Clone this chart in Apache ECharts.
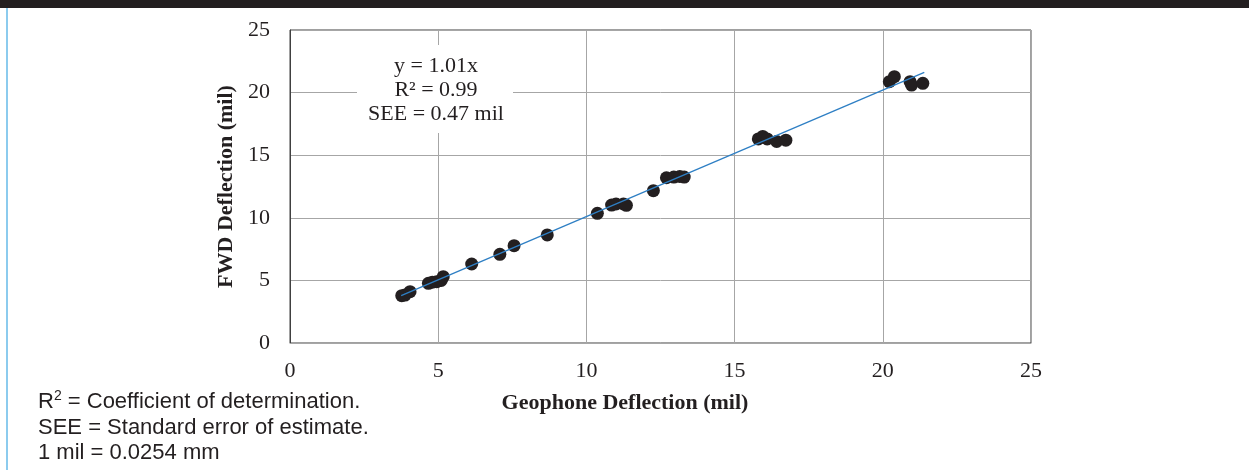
<!DOCTYPE html>
<html>
<head>
<meta charset="utf-8">
<script src="https://cdn.jsdelivr.net/npm/echarts@6/dist/echarts.min.js"></script>
<style>
html,body{margin:0;padding:0;background:#fff;}
#c{width:1249px;height:470px;}
</style>
</head>
<body>
<div id="c"></div>
<script>
// Measured points (Geophone deflection vs FWD deflection, mil)
const geophoneX = [3.77,3.88,4.05,4.67,4.8,4.95,5.1,5.17,6.13,7.08,7.56,8.68,10.37,10.85,11.0,11.25,11.35,12.26,12.7,12.95,13.15,13.3,15.8,15.95,16.1,16.42,16.73,20.22,20.39,20.92,20.97,21.35];
const fwdY =      [3.78,3.83,4.1,4.77,4.85,4.9,5.0,5.3,6.31,7.08,7.77,8.63,10.36,11.02,11.1,11.1,11.0,12.17,13.2,13.25,13.3,13.25,16.3,16.5,16.3,16.1,16.2,20.87,21.27,20.87,20.6,20.74];
// Trend line end points (y = 1.01x)
const trendX = [3.75, 21.4];
const trendY = [3.79, 21.61];
const axisTicks = [0, 5, 10, 15, 20, 25];
const annotationLines = ['y = 1.01x', 'R² = 0.99', 'SEE = 0.47 mil'];
const xTitle = 'Geophone Deflection (mil)';
const yTitle = 'FWD Deflection (mil)';

const serif = "'Liberation Serif','Times New Roman',serif";
const sans = "'Liberation Sans',Arial,sans-serif";
const ink = '#231f20';

const chart = echarts.init(document.getElementById('c'), null, {renderer: 'canvas'});
const pts = geophoneX.map((x, i) => [x, fwdY[i]]);
const trend = trendX.map((x, i) => [x, trendY[i]]);

chart.setOption({
  animation: false,
  backgroundColor: '#fff',
  grid: {left: 290, right: 218, top: 30, bottom: 127, show: true, borderColor: '#404040', borderWidth: 1},
  xAxis: {
    type: 'value', min: axisTicks[0], max: axisTicks[axisTicks.length - 1], interval: 5,
    axisLine: {show: true, lineStyle: {color: '#a6a6a6', width: 1}},
    axisTick: {show: false},
    axisLabel: {color: ink, fontFamily: serif, fontSize: 22, margin: 17},
    splitLine: {show: true, lineStyle: {color: '#a6a6a6', width: 1}}
  },
  yAxis: {
    type: 'value', min: axisTicks[0], max: axisTicks[axisTicks.length - 1], interval: 5,
    name: yTitle, nameLocation: 'middle', nameGap: 41, nameRotate: 90,
    nameTextStyle: {color: ink, fontFamily: serif, fontSize: 22, fontWeight: 'bold'},
    axisLine: {show: true, lineStyle: {color: '#404040', width: 1}},
    axisTick: {show: false},
    axisLabel: {color: ink, fontFamily: serif, fontSize: 22, margin: 20},
    splitLine: {show: true, lineStyle: {color: '#a6a6a6', width: 1}}
  },
  series: [
    {
      type: 'line', data: trend, symbol: 'none', z: 3,
      lineStyle: {color: '#2e7fc4', width: 1.3}
    },
    {
      type: 'scatter', data: pts, symbol: 'circle', symbolSize: 13, z: 2,
      itemStyle: {color: ink, opacity: 1}
    }
  ],
  graphic: [
    {type: 'rect', left: 0, top: 0, shape: {width: 1249, height: 8}, style: {fill: ink}},
    {type: 'rect', left: 6, top: 8, shape: {width: 2, height: 462}, style: {fill: '#8ccbee'}},
    {type: 'rect', left: 357, top: 45, z: 10, shape: {width: 156, height: 88}, style: {fill: '#fff'}},
    {type: 'text', x: 436, y: 66, z: 11, style: {text: annotationLines[0], fill: ink, font: '22px ' + serif, textAlign: 'center', textVerticalAlign: 'middle'}},
    {type: 'text', x: 436, y: 90, z: 11, style: {text: annotationLines[1], fill: ink, font: '22px ' + serif, textAlign: 'center', textVerticalAlign: 'middle'}},
    {type: 'text', x: 436, y: 114, z: 11, style: {text: annotationLines[2], fill: ink, font: '22px ' + serif, textAlign: 'center', textVerticalAlign: 'middle'}},
    {type: 'text', x: 625, y: 403, style: {text: xTitle, fill: ink, font: 'bold 22px ' + serif, textAlign: 'center', textVerticalAlign: 'middle'}},
    {type: 'text', x: 38, y: 402, style: {
      text: '{a|R}{s|2}{a| = Coefficient of determination.}',
      textVerticalAlign: 'middle',
      rich: {
        a: {fontFamily: sans, fontSize: 22, fill: ink, color: ink},
        s: {fontFamily: sans, fontSize: 14, fill: ink, color: ink, verticalAlign: 'top', padding: [0, 0, 11, 0]}
      }
    }},
    {type: 'text', x: 38, y: 428, style: {text: 'SEE = Standard error of estimate.', fill: ink, font: '22px ' + sans, textVerticalAlign: 'middle'}},
    {type: 'text', x: 38, y: 453, style: {text: '1 mil = 0.0254 mm', fill: ink, font: '22px ' + sans, textVerticalAlign: 'middle'}}
  ]
});
</script>
</body>
</html>
